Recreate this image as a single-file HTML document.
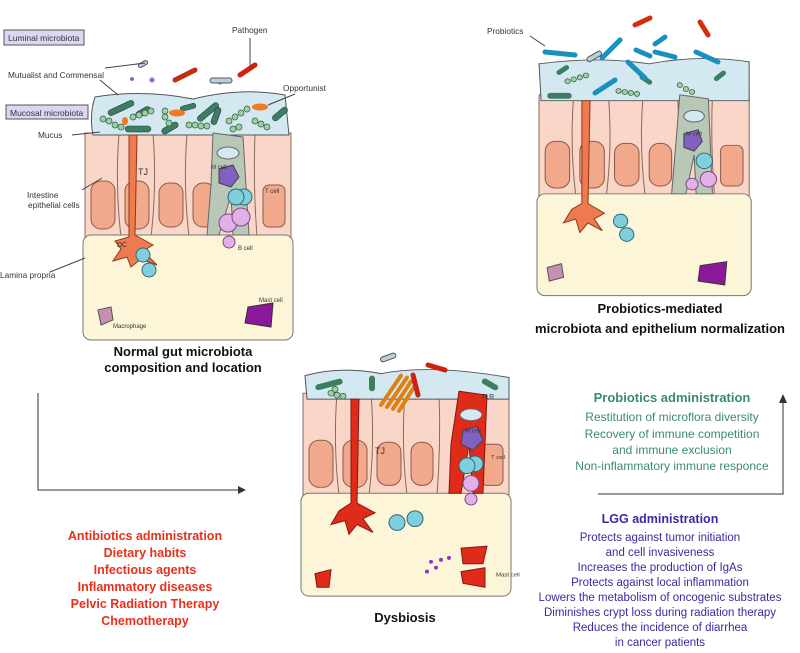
<!DOCTYPE html>
<html><head><meta charset="utf-8"><style>
body{margin:0;background:#fff;width:800px;height:653px;overflow:hidden}
svg{display:block;font-family:"Liberation Sans",sans-serif}
</style></head><body>
<svg width="800" height="653" viewBox="0 0 800 653" xmlns="http://www.w3.org/2000/svg">
<defs>
<g id="epi">
  <rect x="2" y="38" width="206" height="106" fill="#fad6c8" stroke="#8a6a5a"/>
  <g stroke="#8a6a5a" fill="none">
    <path d="M36 38 Q32 90 38 142"/><path d="M70 38 Q74 90 68 142"/><path d="M104 38 Q100 90 106 142"/>
    <path d="M138 38 Q140 90 136 142"/><path d="M172 38 Q170 90 174 142"/>
  </g>
  <g fill="#f2a88a" stroke="#8a5a4a">
    <rect x="8" y="86" width="24" height="48" rx="10"/><rect x="42" y="86" width="24" height="48" rx="10"/>
    <rect x="76" y="88" width="24" height="44" rx="10"/><rect x="110" y="88" width="22" height="44" rx="10"/>
    <rect x="180" y="90" width="22" height="42" rx="6"/>
  </g>
  <rect x="0" y="140" width="210" height="105" rx="8" fill="#fdf5d8" stroke="#777"/>
</g>
<g id="bugs">
  <g fill="#3d7d60" stroke="#234" stroke-width=".5">
    <rect x="12" y="6" width="28" height="6" rx="3" transform="rotate(-25 26 9)"/>
    <rect x="40" y="10" width="16" height="6" rx="3" transform="rotate(-30 48 13)"/>
    <rect x="85" y="6" width="16" height="5" rx="2.5" transform="rotate(-15 92 8)"/>
    <rect x="100" y="10" width="26" height="6" rx="3" transform="rotate(-40 113 13)"/>
    <rect x="112" y="14" width="18" height="6" rx="3" transform="rotate(-70 121 17)"/>
    <rect x="30" y="27" width="26" height="6" rx="3"/>
    <rect x="66" y="26" width="18" height="6" rx="3" transform="rotate(-30 75 29)"/>
    <rect x="176" y="12" width="18" height="6" rx="3" transform="rotate(-40 185 15)"/>
  </g>
  <g fill="#9fcfa5" stroke="#2a5a3a" stroke-width=".7">
    <circle cx="8" cy="20" r="3"/><circle cx="14" cy="22" r="3"/><circle cx="20" cy="26" r="3"/><circle cx="26" cy="28" r="3"/>
    <circle cx="38" cy="18" r="3"/><circle cx="44" cy="16" r="3"/><circle cx="50" cy="14" r="3"/><circle cx="56" cy="12" r="3"/>
    <circle cx="70" cy="12" r="3"/><circle cx="70" cy="18" r="3"/><circle cx="74" cy="24" r="3"/>
    <circle cx="94" cy="26" r="3"/><circle cx="100" cy="26" r="3"/><circle cx="106" cy="27" r="3"/><circle cx="112" cy="27" r="3"/>
    <circle cx="134" cy="22" r="3"/><circle cx="140" cy="18" r="3"/><circle cx="146" cy="14" r="3"/><circle cx="152" cy="10" r="3"/>
    <circle cx="160" cy="22" r="3"/><circle cx="166" cy="25" r="3"/><circle cx="172" cy="28" r="3"/>
    <circle cx="138" cy="30" r="3"/><circle cx="144" cy="28" r="3"/>
  </g>
  <g fill="#f07a20"><ellipse cx="82" cy="14" rx="8" ry="3.5"/><ellipse cx="165" cy="8" rx="8" ry="3.5"/><ellipse cx="30" cy="22" rx="3" ry="4"/></g>
</g>
</defs>

<!-- ===== Panel 1 ===== -->
<g transform="translate(83,95)">
  <use href="#epi"/>
  <path d="M12 2 Q60 -6 110 4 Q160 -8 202 0 L206 40 L10 40 Q6 20 12 2Z" fill="#d3e8f0" stroke="#555"/>
  <use href="#bugs" transform="translate(12,4)"/>
  <path d="M130 38 L160 42 L166 140 L150 140 L148 100 L136 140 L124 140 L128 90Z" fill="#b9c8b6" stroke="#666"/>
  <ellipse cx="145" cy="58" rx="11" ry="6" fill="#d3e8f0" stroke="#666"/>
  <path d="M136 74 L150 70 L156 82 L148 92 L136 88Z" fill="#8060c0" stroke="#444"/>
  <circle cx="161" cy="102" r="8" fill="#7fd0dc" stroke="#2a6a7a"/><circle cx="153" cy="102" r="8" fill="#7fd0dc" stroke="#2a6a7a"/>
  <circle cx="145" cy="128" r="9" fill="#e0b0e6" stroke="#7a4a8a"/><circle cx="158" cy="122" r="9" fill="#e0b0e6" stroke="#7a4a8a"/><circle cx="146" cy="147" r="6" fill="#e0b0e6" stroke="#7a4a8a"/>
  <path d="M46 40 L54 40 L52 140 L70 150 L60 156 L74 170 L58 164 L48 172 L44 162 L30 166 L38 154 L32 146 L46 142Z" fill="#f07a50" stroke="#8a3a1a"/>
  <circle cx="60" cy="160" r="7" fill="#7fd0dc" stroke="#2a6a7a"/><circle cx="66" cy="175" r="7" fill="#7fd0dc" stroke="#2a6a7a"/>
  <path d="M15 215 L28 212 L30 225 L18 230Z" fill="#c890b0" stroke="#555"/>
  <path d="M165 212 L190 208 L188 232 L162 228Z" fill="#8a1a9a" stroke="#333"/>
  <text x="55" y="80" font-size="9" fill="#333">TJ</text>
  <text x="128" y="74" font-size="6" fill="#333">M cell</text>
  <text x="34" y="152" font-size="7" fill="#333">DC</text>
  <text x="155" y="155" font-size="6" fill="#333">B cell</text>
  <text x="182" y="98" font-size="6" fill="#333">T cell</text>
  <text x="30" y="233" font-size="6" fill="#333">Macrophage</text>
  <text x="176" y="207" font-size="6" fill="#333">Mast cell</text>
</g>
<g fill="#8a6acc"><circle cx="132" cy="79" r="2"/><circle cx="220" cy="82" r="2.5"/><circle cx="152" cy="80" r="2.5"/></g>
<rect x="138" y="62" width="10" height="4" rx="2" fill="#b8d0dc" stroke="#555" transform="rotate(-30 143 64)"/>
<path d="M175 80 L195 70" stroke="#c03010" stroke-width="5" stroke-linecap="round"/>
<path d="M240 75 L255 65" stroke="#d02010" stroke-width="5" stroke-linecap="round"/>
<rect x="210" y="78" width="22" height="5" rx="2.5" fill="#b8d0dc" stroke="#555"/>
<rect x="4" y="30" width="80" height="15" fill="#ddd6f2" stroke="#555"/>
<text x="8" y="41" font-size="8.5" fill="#333">Luminal microbiota</text>
<rect x="6" y="105" width="82" height="14" fill="#ddd6f2" stroke="#555"/>
<text x="10" y="116" font-size="8.5" fill="#333">Mucosal microbiota</text>
<g font-size="8.3" fill="#333">
<text x="8" y="78">Mutualist and Commensal</text>
<text x="232" y="33">Pathogen</text>
<text x="283" y="91">Opportunist</text>
<text x="38" y="138">Mucus</text>
<text x="27" y="198">Intestine</text>
<text x="28" y="208">epithelial cells</text>
<text x="0" y="278">Lamina propria</text>
</g>
<g stroke="#444" fill="none"><path d="M105 68 L145 63"/><path d="M100 80 L118 95"/><path d="M72 135 L100 132"/><path d="M82 190 L102 178"/><path d="M50 272 L85 258"/><path d="M250 38 L250 66"/><path d="M295 94 L268 105"/></g>
<text x="183" y="356" font-size="13" font-weight="bold" text-anchor="middle" fill="#111">Normal gut microbiota</text>
<text x="183" y="372" font-size="13" font-weight="bold" text-anchor="middle" fill="#111">composition and location</text>

<!-- ===== Panel 2 ===== -->
<g transform="translate(537,58) scale(1.02,0.97)">
  <use href="#epi"/>
  <path d="M2 6 Q60 -2 110 6 Q160 -4 208 4 L208 44 L4 44Z" fill="#d3e8f0" stroke="#555"/>
  <g fill="#3d7d60"><rect x="18" y="10" width="14" height="5" rx="2.5" transform="rotate(-35 25 12)"/><rect x="10" y="36" width="24" height="6" rx="3"/><rect x="100" y="20" width="14" height="5" rx="2.5" transform="rotate(35 107 22)"/><rect x="172" y="16" width="14" height="5" rx="2.5" transform="rotate(-40 179 18)"/></g>
  <g fill="#9fcfa5" stroke="#2a5a3a" stroke-width=".7"><circle cx="30" cy="24" r="2.6"/><circle cx="36" cy="22" r="2.6"/><circle cx="42" cy="20" r="2.6"/><circle cx="48" cy="18" r="2.6"/><circle cx="80" cy="34" r="2.6"/><circle cx="86" cy="35" r="2.6"/><circle cx="92" cy="36" r="2.6"/><circle cx="98" cy="37" r="2.6"/><circle cx="140" cy="28" r="2.6"/><circle cx="146" cy="32" r="2.6"/><circle cx="152" cy="35" r="2.6"/></g>
  <path d="M140 38 L168 42 L172 140 L156 140 L154 100 L146 140 L132 140 L136 90Z" fill="#b9c8b6" stroke="#666"/>
  <ellipse cx="154" cy="60" rx="10" ry="6" fill="#d3e8f0" stroke="#666"/>
  <path d="M144 78 L158 74 L162 86 L154 96 L144 92Z" fill="#8060c0" stroke="#444"/>
  <circle cx="164" cy="106" r="8" fill="#7fd0dc" stroke="#2a6a7a"/><circle cx="168" cy="125" r="8" fill="#e0b0e6" stroke="#7a4a8a"/><circle cx="152" cy="130" r="6" fill="#e0b0e6" stroke="#7a4a8a"/>
  <path d="M44 44 L52 44 L50 150 L66 160 L56 166 L64 178 L50 170 L42 180 L38 166 L26 170 L34 156 L44 150Z" fill="#f07a50" stroke="#8a3a1a"/>
  <circle cx="82" cy="168" r="7" fill="#7fd0dc" stroke="#2a6a7a"/><circle cx="88" cy="182" r="7" fill="#7fd0dc" stroke="#2a6a7a"/>
  <path d="M10 216 L24 212 L26 226 L12 230Z" fill="#c890b0" stroke="#555"/>
  <path d="M160 214 L186 210 L184 234 L158 230Z" fill="#8a1a9a" stroke="#333"/>
  <text x="146" y="80" font-size="6" fill="#333">M cell</text>
</g>
<g stroke="#1a90c0" stroke-width="5" stroke-linecap="round">
<path d="M545 52 L575 55"/><path d="M602 58 L620 40"/><path d="M636 50 L650 56"/><path d="M655 52 L675 57"/><path d="M655 44 L665 37"/><path d="M696 52 L718 62"/><path d="M628 62 L645 78"/><path d="M595 93 L615 80"/></g>
<rect x="586" y="54" width="16" height="5" rx="2.5" fill="#b8d0dc" stroke="#555" transform="rotate(-30 594 56)"/>
<g stroke="#d03010" stroke-width="5" stroke-linecap="round"><path d="M635 25 L650 18"/><path d="M700 22 L708 35"/></g>
<text x="487" y="34" font-size="8.3" fill="#333">Probiotics</text>
<path d="M530 36 L545 46" stroke="#444"/>
<text x="660" y="313" font-size="13" font-weight="bold" text-anchor="middle" fill="#111">Probiotics-mediated</text>
<text x="660" y="333" font-size="13" font-weight="bold" text-anchor="middle" fill="#111">microbiota and epithelium normalization</text>

<!-- ===== Panel 3 ===== -->
<g transform="translate(301,356) scale(1,0.98)">
  <use href="#epi"/>
  <path d="M4 20 Q40 10 80 18 Q130 8 208 22 L208 44 L6 44Z" fill="#d3e8f0" stroke="#555"/>
  <g fill="#3d7d60"><rect x="14" y="26" width="28" height="6" rx="3" transform="rotate(-15 28 29)"/><rect x="68" y="20" width="6" height="16" rx="3"/><rect x="180" y="26" width="18" height="6" rx="3" transform="rotate(30 189 29)"/></g>
  <g fill="#9fcfa5" stroke="#2a5a3a" stroke-width=".7"><circle cx="30" cy="38" r="3"/><circle cx="36" cy="40" r="3"/><circle cx="42" cy="41" r="3"/><circle cx="34" cy="34" r="3"/></g>
  <g stroke="#e08010" stroke-width="4" stroke-linecap="round"><path d="M80 50 L100 20"/><path d="M86 52 L106 22"/><path d="M92 54 L110 26"/><path d="M98 56 L114 30"/></g>
  <path d="M50 44 L58 44 L56 150 L74 160 L62 166 L72 180 L56 172 L48 182 L44 168 L30 172 L38 158 L50 150Z" fill="#e02a1a" stroke="#801a10"/>
  <path d="M158 36 L186 40 L182 140 L172 140 L168 90 L160 140 L148 140 L150 90Z" fill="#e02a1a" stroke="#801a10"/>
  <ellipse cx="170" cy="60" rx="11" ry="6" fill="#d3e8f0" stroke="#666"/>
  <path d="M162 76 L176 72 L182 86 L172 96 L160 90Z" fill="#8060c0" stroke="#444"/>
  <circle cx="174" cy="110" r="8" fill="#7fd0dc" stroke="#2a6a7a"/><circle cx="166" cy="112" r="8" fill="#7fd0dc" stroke="#2a6a7a"/>
  <circle cx="170" cy="130" r="8" fill="#e0b0e6" stroke="#7a4a8a"/><circle cx="170" cy="146" r="6" fill="#e0b0e6" stroke="#7a4a8a"/>
  <circle cx="96" cy="170" r="8" fill="#7fd0dc" stroke="#2a6a7a"/><circle cx="114" cy="166" r="8" fill="#7fd0dc" stroke="#2a6a7a"/>
  <path d="M14 222 L30 218 L28 236 L16 236Z" fill="#e02a1a" stroke="#801a10"/>
  <path d="M160 196 L186 194 L182 212 L162 212Z" fill="#e02a1a" stroke="#801a10"/>
  <path d="M160 220 L184 216 L184 236 L162 232Z" fill="#e02a1a" stroke="#801a10"/>
  <g fill="#8a3ac0"><circle cx="130" cy="210" r="2"/><circle cx="140" cy="208" r="2"/><circle cx="135" cy="216" r="2"/><circle cx="148" cy="206" r="2"/><circle cx="126" cy="220" r="2"/></g>
  <text x="74" y="100" font-size="9" fill="#333">TJ</text>
  <text x="164" y="78" font-size="6" fill="#333">M cell</text>
  <text x="180" y="44" font-size="7" fill="#333">TLR</text>
  <text x="190" y="105" font-size="6" fill="#333">T cell</text>
  <text x="195" y="225" font-size="6" fill="#333">Mast cell</text>
</g>
<g stroke="#d02010" stroke-width="5" stroke-linecap="round"><path d="M428 365 L445 370"/><path d="M413 375 L418 395"/></g>
<rect x="380" y="355" width="16" height="5" rx="2.5" fill="#b8d0dc" stroke="#555" transform="rotate(-20 388 357)"/>
<text x="405" y="622" font-size="13" font-weight="bold" text-anchor="middle" fill="#111">Dysbiosis</text>

<path d="M38 393 L38 490 L240 490" stroke="#333" fill="none"/>
<path d="M246 490 L238 486 L238 494Z" fill="#333"/>
<path d="M598 494 L783 494 L783 402" stroke="#333" fill="none"/>
<path d="M783 394 L779 403 L787 403Z" fill="#333"/>

<g font-size="12.5" font-weight="bold" fill="#e8301a" text-anchor="middle">
<text x="145" y="540">Antibiotics administration</text>
<text x="145" y="557">Dietary habits</text>
<text x="145" y="574">Infectious agents</text>
<text x="145" y="591">Inflammatory diseases</text>
<text x="145" y="608">Pelvic Radiation Therapy</text>
<text x="145" y="625">Chemotherapy</text>
</g>
<g fill="#3a8a72" text-anchor="middle" font-size="12">
<text x="672" y="402" font-weight="bold" font-size="13">Probiotics administration</text>
<text x="672" y="421">Restitution of microflora diversity</text>
<text x="672" y="438">Recovery of immune competition</text>
<text x="672" y="454">and immune exclusion</text>
<text x="672" y="470">Non-inflammatory immune responce</text>
</g>
<g fill="#3a2aa0" text-anchor="middle" font-size="11.5">
<text x="660" y="523" font-weight="bold" font-size="12.5">LGG administration</text>
<text x="660" y="541">Protects against tumor initiation</text>
<text x="660" y="556">and cell invasiveness</text>
<text x="660" y="571">Increases the production of IgAs</text>
<text x="660" y="586">Protects against local inflammation</text>
<text x="660" y="601">Lowers the metabolism of oncogenic substrates</text>
<text x="660" y="616">Diminishes crypt loss during radiation therapy</text>
<text x="660" y="631">Reduces the incidence of diarrhea</text>
<text x="660" y="646">in cancer patients</text>
</g>
</svg>
</body></html>
